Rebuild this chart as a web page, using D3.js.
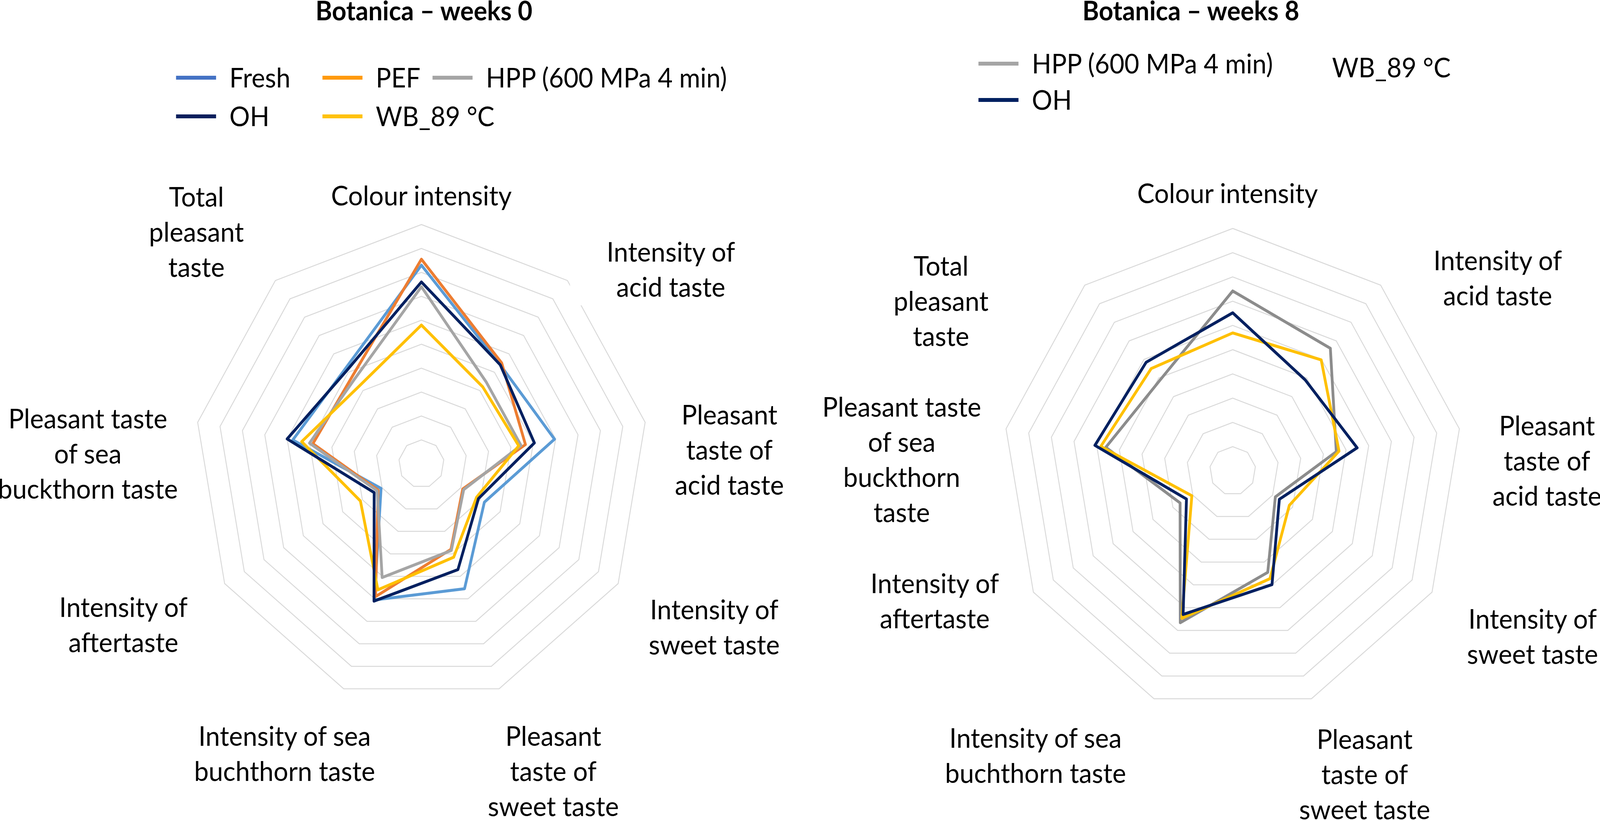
<!DOCTYPE html>
<html>
<head>
<meta charset="utf-8">
<script src="https://cdn.jsdelivr.net/npm/d3@7"></script>
<style>
    html, body { margin: 0; padding: 0; background: #ffffff; overflow: hidden; }
    #chart { display: block; width: 100vw; height: 100vh; }
    svg text { font-family: Lato, "Open Sans", sans-serif; fill: #000000; }
</style>
</head>
<body>
<svg id="chart" viewBox="0 0 4317 2100" preserveAspectRatio="none"></svg>
<script>
// sensory attributes, clockwise from the top
const attributes = [
    "Colour intensity",
    "Intensity of acid taste",
    "Pleasant taste of acid taste",
    "Intensity of sweet taste",
    "Pleasant taste of sweet taste",
    "Intensity of sea buchthorn taste",
    "Intensity of aftertaste",
    "Pleasant taste of sea buckthorn taste",
    "Total pleasant taste"
];

const scaleTicks = [1, 2, 3, 4, 5, 6, 7, 8, 9, 10];

// week 0 scores
const fresh0 = [8.3, 5.4, 5.95, 3.2, 5.55, 6.05, 2.05, 5.75, 5.2];
const pef0   = [8.55, 5.5, 4.65, 2.1, 3.8, 5.9, 2.2, 4.85, 4.75];
const hpp0   = [7.4, 4.45, 4.45, 2.15, 3.85, 5.05, 2.25, 5.0, 4.6];
const wb0    = [5.8, 4.2, 4.35, 2.8, 4.15, 5.6, 3.1, 5.35, 4.25];
const oh0    = [7.6, 5.4, 5.05, 2.9, 4.7, 6.1, 2.4, 6.0, 5.1];

// week 8 scores
const hpp8 = [7.42, 6.6, 4.57, 2.14, 4.45, 6.66, 2.64, 5.6, 4.9];
const wb8  = [5.69, 5.98, 4.69, 2.84, 4.73, 6.47, 2.05, 5.82, 5.51];
const oh8  = [6.52, 4.9, 5.49, 2.34, 4.99, 6.3, 2.32, 6.08, 5.85];

const titles = ["Botanica \u2013 weeks 0", "Botanica \u2013 weeks 8"];

class Radar {

    /**
     * One radar panel.
     * @param opts centre, radius, series, label and legend layout
     */
    constructor(opts) {
        this.opts = opts;
        this.angle = d3.scaleLinear()
            .domain([0, attributes.length])
            .range([0, 2 * Math.PI]);
        this.rScale = d3.scaleLinear()
            .domain([0, 10])
            .range([0, opts.radius]);
        this.svg = d3.select('#chart');
    }

    draw() {
        let that = this;
        let o = this.opts;

        let g = this.svg.append('g')
            .attr('transform', `translate(${o.cx}, ${o.cy})`);

        // grid rings
        g.append('g')
            .selectAll('path')
            .data(scaleTicks)
            .join('path')
                .attr('d', t => d3.lineRadial()
                    .angle((d, i) => that.angle(i))
                    .radius(() => that.rScale(t))
                    .curve(d3.curveLinearClosed)(attributes))
                .attr('fill', 'none')
                .attr('stroke', '#d9d9d9')
                .attr('stroke-width', 2.5);

        // white label boxes that hide the grid
        this.svg.selectAll(null)
            .data(o.labels.filter(d => d.box))
            .join('rect')
                .attr('x', d => d.box[0])
                .attr('y', d => d.box[1])
                .attr('width', d => d.box[2])
                .attr('height', d => d.box[3])
                .attr('fill', '#ffffff');

        let line = d3.lineRadial()
            .angle((d, i) => that.angle(i))
            .radius(d => that.rScale(d))
            .curve(d3.curveLinearClosed);

        g.append('g')
            .selectAll('path')
            .data(o.series)
            .join('path')
                .attr('d', d => line(d.values))
                .attr('fill', 'none')
                .attr('stroke', d => d.color)
                .attr('stroke-width', 7.5)
                .attr('stroke-linejoin', 'round');

        // title
        this.svg.append('text')
            .attr('x', o.titleX)
            .attr('y', 52)
            .attr('text-anchor', 'middle')
            .style('font-weight', 'bold')
            .style('font-size', '68px')
            .text(o.title);

        // category labels
        let lab = this.svg.append('g')
            .selectAll('text')
            .data(o.labels)
            .join('text')
                .attr('text-anchor', 'middle')
                .style('font-size', '70px');

        lab.selectAll('tspan')
            .data(d => d.lines.map((t, i) => ({ t: t, x: d.x, y: d.y + i * 90 })))
            .join('tspan')
                .attr('x', d => d.x)
                .attr('y', d => d.y)
                .text(d => d.t);

        // legend
        let leg = this.svg.append('g')
            .selectAll('g')
            .data(o.legend)
            .join('g')
                .attr('transform', d => `translate(${d.x}, ${d.y})`);

        leg.filter(d => d.color)
            .append('line')
            .attr('x1', 0)
            .attr('x2', 108)
            .attr('stroke', d => d.color)
            .attr('stroke-width', 10);

        leg.append('text')
            .attr('x', d => d.color ? 144 : 0)
            .attr('y', 25)
            .style('font-size', '69px')
            .text(d => d.name);
    }
}

new Radar({
    cx: 1137, cy: 1188, radius: 613,
    title: titles[0], titleX: 1144,
    series: [
        { name: "Fresh", values: fresh0, color: "#5b9bd5" },
        { name: "PEF", values: pef0, color: "#ed7d31" },
        { name: "HPP (600 MPa 4 min)", values: hpp0, color: "#a5a5a5" },
        { name: "WB_89 \u00b0C", values: wb0, color: "#ffc000" },
        { name: "OH", values: oh0, color: "#002060" }
    ],
    labels: [
        { x: 1137, y: 526, lines: ["Colour intensity"] },
        { x: 1810, y: 670, lines: ["Intensity of", "acid taste"], box: [1538, 600, 540, 182] },
        { x: 1968, y: 1087, lines: ["Pleasant", "taste of", "acid taste"] },
        { x: 1927, y: 1586, lines: ["Intensity of", "sweet taste"] },
        { x: 1493, y: 1910, lines: ["Pleasant", "taste of", "sweet taste"] },
        { x: 768, y: 1910, lines: ["Intensity of sea", "buchthorn taste"] },
        { x: 333, y: 1580, lines: ["Intensity of", "aftertaste"] },
        { x: 237, y: 1097, lines: ["Pleasant taste", "of sea", "buckthorn taste"] },
        { x: 530, y: 529, lines: ["Total", "pleasant", "taste"] }
    ],
    legend: [
        { name: "Fresh", x: 475, y: 199, color: "#4472c4" },
        { name: "PEF", x: 870, y: 199, color: "#ff9a0e" },
        { name: "HPP (600 MPa 4 min)", x: 1167, y: 199, color: "#a5a5a5" },
        { name: "OH", x: 475, y: 298, color: "#0a1f5c" },
        { name: "WB_89 \u00b0C", x: 870, y: 298, color: "#ffc20e" }
    ]
}).draw();

new Radar({
    cx: 3326, cy: 1206, radius: 621,
    title: titles[1], titleX: 3213,
    series: [
        { name: "HPP (600 MPa 4 min)", values: hpp8, color: "#8c8c8c" },
        { name: "WB_89 \u00b0C", values: wb8, color: "#ffc000" },
        { name: "OH", values: oh8, color: "#002060" }
    ],
    labels: [
        { x: 3312, y: 520, lines: ["Colour intensity"] },
        { x: 4041, y: 692, lines: ["Intensity of", "acid taste"] },
        { x: 4174, y: 1115, lines: ["Pleasant", "taste of", "acid taste"] },
        { x: 4135, y: 1610, lines: ["Intensity of", "sweet taste"] },
        { x: 3682, y: 1918, lines: ["Pleasant", "taste of", "sweet taste"] },
        { x: 2794, y: 1915, lines: ["Intensity of sea", "buchthorn taste"] },
        { x: 2522, y: 1519, lines: ["Intensity of", "aftertaste"] },
        { x: 2433, y: 1067, lines: ["Pleasant taste", "of sea", "buckthorn", "taste"] },
        { x: 2539, y: 706, lines: ["Total", "pleasant", "taste"] }
    ],
    legend: [
        { name: "HPP (600 MPa 4 min)", x: 2640, y: 163, color: "#a5a5a5" },
        { name: "OH", x: 2640, y: 256, color: "#002060" },
        { name: "WB_89 \u00b0C", x: 3594, y: 173, color: null }
    ]
}).draw();
</script>
</body>
</html>
